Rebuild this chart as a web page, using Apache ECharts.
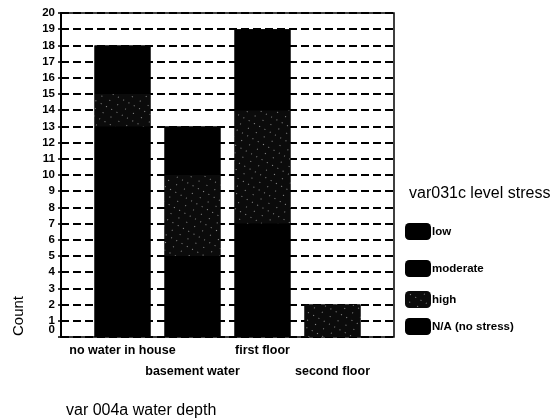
<!DOCTYPE html>
<html>
<head>
<meta charset="utf-8">
<script src="https://cdn.jsdelivr.net/npm/echarts@6/dist/echarts.min.js"></script>
<style>
  html, body { margin: 0; padding: 0; background: #fff; }
  #chart { width: 554px; height: 420px; }
</style>
</head>
<body>
<div id="chart"></div>
<script>
// Water depth categories and counts per stress level (stacked bottom to top: N/A, high, moderate, low)
var categories = ['no water in house', 'basement water', 'first floor', 'second floor'];
var stressLevels = ['low', 'moderate', 'high', 'N/A (no stress)'];
var countNA = [13, 5, 7, 0];
var countHigh = [2, 5, 7, 2];
var countModerate = [2, 2, 3, 0];
var countLow = [1, 1, 2, 0];
var yTicks = { min: 0, max: 20, step: 1 };

// column totals, used for a solid backing under each stack so segment seams stay black
var totals = categories.map(function (_, i) {
  return countNA[i] + countHigh[i] + countModerate[i] + countLow[i];
});

var FONT = '"Liberation Sans", Arial, sans-serif';
var BLACK = '#000000';

var speckle = {
  symbol: 'rect',
  symbolSize: 1,
  color: 'rgba(255,255,255,0.55)',
  dashArrayX: [[1, 8], [1, 5]],
  dashArrayY: [1, 6],
  rotation: 0.5
};

function barSeries(name, data, color, decal) {
  var style = { color: color };
  if (decal) style.decal = decal;
  return {
    name: name,
    type: 'bar',
    stack: 'depth',
    xAxisIndex: 1,
    yAxisIndex: 2,
    barWidth: 56,
    barGap: '-100%',
    itemStyle: style,
    emphasis: { disabled: true },
    data: data
  };
}

var tickLabelStyle = {
  margin: 6,
  lineHeight: 14,
  fontFamily: FONT,
  fontSize: 11.5,
  fontWeight: 'bold',
  color: BLACK
};

var legendTops = [218, 255, 286, 313];

var option = {
  animation: false,
  textStyle: { fontFamily: FONT },
  title: [
    {
      text: 'var031c level stress',
      left: 404,
      top: 181,
      textStyle: { fontFamily: FONT, fontSize: 16, fontWeight: 'normal', color: BLACK }
    },
    {
      text: 'var 004a water depth',
      left: 61,
      top: 398,
      textStyle: { fontFamily: FONT, fontSize: 16, fontWeight: 'normal', color: BLACK }
    }
  ],
  legend: stressLevels.map(function (name, i) {
    return {
      data: [name],
      left: 400,
      top: legendTops[i],
      orient: 'vertical',
      icon: 'roundRect',
      itemWidth: 26,
      itemHeight: 17,
      selectedMode: false,
      textStyle: { fontFamily: FONT, fontSize: 11.5, fontWeight: 'bold', color: BLACK, padding: [0, 0, 0, -4] }
    };
  }),
  graphic: [
    {
      type: 'text',
      x: 11,
      y: 336,
      rotation: Math.PI / 2,
      style: { text: 'Count', font: '15px ' + FONT, fill: BLACK, textAlign: 'left', textVerticalAlign: 'top' }
    }
  ],
  grid: [
    { left: 61, right: 160, top: 13, bottom: 83, show: true, borderColor: BLACK, borderWidth: 1.5, backgroundColor: 'transparent' },
    { left: 87.5, right: 186.5, top: 13, bottom: 83 }
  ],
  xAxis: [
    { gridIndex: 0, type: 'category', data: categories, show: false },
    {
      gridIndex: 1,
      type: 'category',
      data: categories,
      axisLine: { show: false },
      axisTick: { show: false },
      axisLabel: {
        interval: 0,
        margin: 3,
        lineHeight: 21,
        fontFamily: FONT,
        fontSize: 12.5,
        fontWeight: 'bold',
        color: BLACK,
        formatter: function (v, i) { return i % 2 === 1 ? '\n' + v : v; }
      }
    }
  ],
  yAxis: [
    {
      // main count axis: gridlines, ticks and labels 1..20
      gridIndex: 0,
      type: 'value',
      position: 'left',
      min: yTicks.min,
      max: yTicks.max,
      interval: yTicks.step,
      axisLine: { show: true, lineStyle: { color: BLACK, width: 2 } },
      axisTick: { show: true, length: 3, lineStyle: { color: BLACK, width: 1.5 } },
      axisLabel: Object.assign({}, tickLabelStyle, {
        formatter: function (v) { return v === 0 ? '' : String(v); }
      }),
      splitLine: {
        show: true,
        lineStyle: { color: BLACK, width: 2, type: [8, 4] }
      }
    },
    {
      // zero label, lifted slightly above the baseline
      gridIndex: 0,
      type: 'value',
      position: 'left',
      offset: 0,
      min: yTicks.min,
      max: yTicks.max,
      interval: yTicks.step,
      axisLine: { show: false },
      axisTick: { show: false },
      splitLine: { show: false },
      axisLabel: Object.assign({}, tickLabelStyle, {
        showMinLabel: true,
        formatter: function (v) { return v === 0 ? '0\n\u00a0' : ''; }
      })
    },
    { gridIndex: 1, type: 'value', min: yTicks.min, max: yTicks.max, show: false, splitLine: { show: false } }
  ],
  series: [
    {
      name: 'total',
      type: 'bar',
      xAxisIndex: 1,
      yAxisIndex: 2,
      barWidth: 56,
      barGap: '-100%',
      z: 1,
      silent: true,
      itemStyle: { color: BLACK },
      data: totals
    },
    barSeries('N/A (no stress)', countNA, BLACK),
    barSeries('high', countHigh, '#0b0b0b', speckle),
    barSeries('moderate', countModerate, BLACK),
    barSeries('low', countLow, BLACK)
  ]
};

var chart = echarts.init(document.getElementById('chart'), null, { renderer: 'canvas' });
chart.setOption(option);
</script>
</body>
</html>
